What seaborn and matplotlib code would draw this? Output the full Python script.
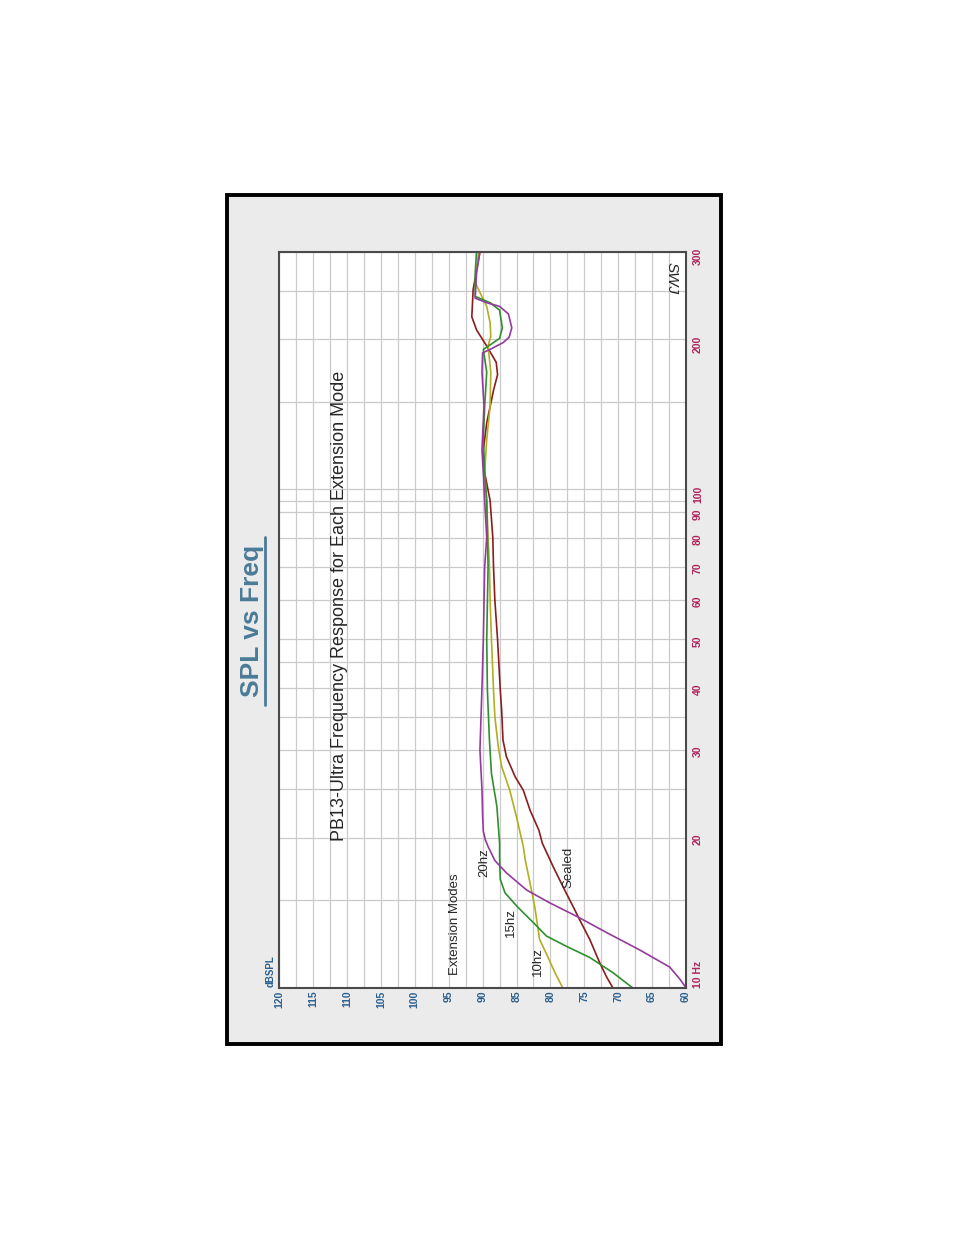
import numpy as np
import pandas as pd
import matplotlib
matplotlib.use("Agg")
import matplotlib.pyplot as plt
import seaborn as sns
from matplotlib.patches import Rectangle
from matplotlib.lines import Line2D
from matplotlib.ticker import FixedLocator, NullFormatter

sns.set_style("white")
plt.rcParams['font.family'] = ['Liberation Sans', 'DejaVu Sans']

# frequency response (Hz, dB SPL)
freq_20hz = [10, 10.4, 11.0, 11.9, 12.9, 13.9, 14.8, 15.7, 17.0, 18.0, 19.2, 19.8, 20.6, 22, 25, 30, 40, 50, 70, 80,
             95, 108, 120, 147, 172, 188, 191, 197, 202, 211, 225, 233, 237, 242, 272, 300]
spl_20hz = [60.0, 60.9, 62.4, 66.8, 71.7, 76.1, 80.1, 83.5, 86.5, 88.2, 89.2, 89.6, 89.9, 90.0, 90.1, 90.4, 90.1, 89.9,
            89.7, 89.4, 89.7, 89.9, 90.1, 89.8, 90.1, 90.0, 88.9, 87.0, 86.1, 85.7, 86.2, 87.5, 89.4, 91.1, 90.9, 90.4]

freq_15hz = [10, 10.7, 11.5, 12.1, 12.7, 13.5, 14.5, 15.5, 16.5, 18.3, 19.5, 23.1, 26.9, 31.4, 39.6, 50, 70, 95,
             108, 126, 147, 172, 191, 195, 201, 211, 229, 237, 244, 272, 300]
spl_15hz = [67.9, 70.7, 74.2, 77.6, 80.6, 82.5, 84.8, 86.7, 87.4, 87.5, 87.5, 87.9, 88.7, 89.0, 89.3, 89.4, 89.2, 89.4,
            89.7, 89.9, 89.7, 89.4, 89.9, 88.9, 87.5, 87.1, 87.5, 88.9, 91.1, 91.1, 90.9]

freq_10hz = [10, 10.7, 11.7, 12.5, 14.5, 16.2, 18.0, 19.2, 22.0, 24.9, 27.8, 30.5, 35, 39.6, 50, 60, 70, 80,
             95, 108, 126, 147, 172, 194, 203, 216, 233, 260, 300]
spl_10hz = [78.2, 79.3, 80.6, 81.6, 82.3, 83.0, 83.7, 84.0, 85.0, 86.0, 87.2, 87.7, 88.2, 88.4, 88.7, 88.9, 89.0, 89.2,
            89.4, 89.7, 89.4, 88.9, 88.8, 89.2, 88.8, 88.9, 89.4, 91.1, 90.6]

freq_sealed = [10, 10.5, 11.2, 12.5, 13.7, 14.5, 15.9, 17.5, 19.5, 20.7, 22.7, 24.9, 26.5, 29.1, 31.4, 36.1, 39.6,
               50, 60, 70, 80, 95, 108, 120, 136, 158, 170, 180, 194, 209, 222, 252, 280, 300]
spl_sealed = [70.8, 71.7, 72.7, 74.2, 75.7, 76.6, 78.1, 79.6, 81.2, 81.7, 83.0, 84.0, 85.2, 86.5, 87.0, 87.2, 87.4,
              87.8, 88.2, 88.4, 88.5, 88.9, 89.7, 89.9, 89.4, 88.4, 87.8, 88.0, 89.4, 90.9, 91.6, 91.4, 90.8, 90.4]

db_ticks = [120, 115, 110, 105, 100, 95, 90, 85, 80, 75, 70, 65, 60]
freq_ticks = [10, 20, 30, 40, 50, 60, 70, 80, 90, 100, 200, 300]
freq_labels = ['10 Hz', '20', '30', '40', '50', '60', '70', '80', '90', '100', '200', '300']
freq_minor = [15, 25, 35, 45, 95, 150, 250]

W, H = 954, 1235
fig = plt.figure(figsize=(9.54, 12.35), dpi=100)

# grey scanned panel with black frame, kept behind the axes
fig.patches.append(Rectangle((227 / W, 1 - 1044 / H), (721 - 227) / W, (1044 - 195) / H,
                             transform=fig.transFigure, figure=fig, facecolor='#ebebeb',
                             edgecolor='black', lw=2.8, zorder=-10))

ax = fig.add_axes([279.3 / W, 1 - 987.7 / H, (686 - 279.3) / W, (987.7 - 251.7) / H])
ax.set_facecolor('white')

curves = [(freq_sealed, spl_sealed, '#8b1c1c'),
          (freq_10hz, spl_10hz, '#b3ad22'),
          (freq_15hz, spl_15hz, '#2f8f2f'),
          (freq_20hz, spl_20hz, '#943a9c')]
for f, s, c in curves:
    d = pd.DataFrame({'spl': s, 'freq': f})
    sns.lineplot(data=d, x='spl', y='freq', sort=False, estimator=None, color=c, lw=1.2, ax=ax)

ax.set_yscale('log')
ax.set_xlim(120, 60)
ax.set_ylim(10, 300)

ax.set_xticks(db_ticks, labels=[str(v) for v in db_ticks], fontweight='bold')
ax.xaxis.set_minor_locator(FixedLocator(np.arange(62.5, 120, 5)))
ax.yaxis.tick_right()
ax.set_yticks(freq_ticks, labels=freq_labels, fontweight='bold')
ax.yaxis.set_minor_locator(FixedLocator(freq_minor))
ax.yaxis.set_minor_formatter(NullFormatter())
ax.tick_params(axis='x', which='both', length=0, pad=2, labelrotation=90, labelcolor='#2c6090', labelsize=7.5)
ax.tick_params(axis='y', which='both', length=0, pad=5, labelrotation=90, labelcolor='#b0245c', labelsize=7.5)
ax.get_yticklabels()[0].set_va('bottom')
ax.grid(True, which='both', color='#cacaca', lw=0.9)
ax.set_axisbelow(True)
ax.set_xlabel('')
ax.set_ylabel('')
for sp in ax.spines.values():
    sp.set_color('#4a4a4a')
    sp.set_linewidth(1.5)

# labels inside the plot
ax.text(94.1, 10.6, 'Extension Modes', rotation=90, ha='center', va='bottom', fontsize=9.5)
ax.text(89.7, 17.8, '20hz', rotation=90, ha='center', va='center', fontsize=9.5)
ax.text(85.8, 13.5, '15hz', rotation=90, ha='center', va='center', fontsize=9.5)
ax.text(81.8, 11.3, '10hz', rotation=90, ha='center', va='center', fontsize=9.5)
ax.text(77.4, 17.4, 'Sealed', rotation=90, ha='center', va='center', fontsize=9.5)
ax.text(62.2, 265, 'SWJ', rotation=-90, ha='center', va='center', fontsize=11, style='italic')

# title and subtitle, rotated like the scan
blue = '#4a7b98'
fig.text(252 / W, 1 - 621 / H, 'SPL vs Freq', rotation=90, ha='center', va='center',
         fontsize=19, fontweight='bold', color=blue)
fig.add_artist(Line2D([265 / W, 265 / W], [1 - 705 / H, 1 - 537 / H], color=blue, lw=2,
                      transform=fig.transFigure))
fig.text(340 / W, 1 - 606 / H, 'PB13-Ultra Frequency Response for Each Extension Mode', rotation=90,
         ha='center', va='center', fontsize=13)
fig.text(271 / W, 1 - 987 / H, 'dBSPL', rotation=90, ha='center', va='bottom',
         fontsize=7, fontweight='bold', color='#2c6090')

fig.savefig('out.png', dpi=100, facecolor='white')
